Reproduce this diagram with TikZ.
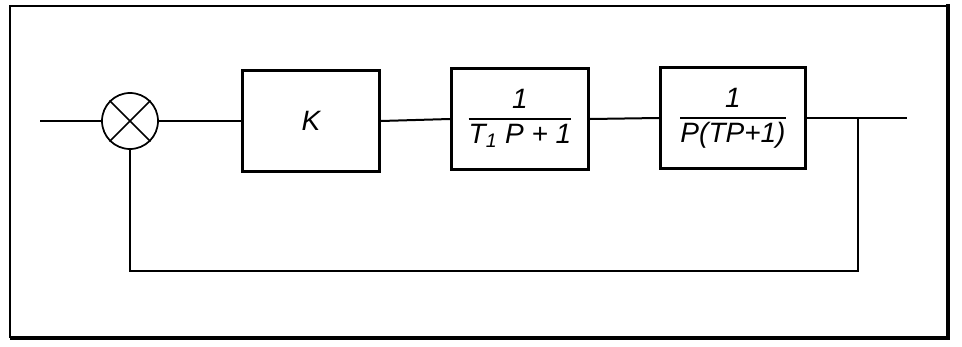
\documentclass[tikz,border=0pt]{standalone}
\usepackage{fontspec}
\setmainfont{Liberation Sans}
\usepackage{tikz}
\usetikzlibrary{positioning,calc}

\tikzset{
    block/.style={draw,line width=2pt,minimum width=103pt,minimum height=76pt,inner sep=0pt,font=\itshape\fontsize{21}{23}\selectfont},
    summer/.style={draw,circle,line width=1.3pt,minimum size=42pt,inner sep=0pt},
    signal/.style={line width=1.5pt}
}
\newcommand{\blockfrac}[2]{\setlength{\arrayrulewidth}{1.3pt}\renewcommand{\arraystretch}{1.1}\begin{tabular}{@{}c@{}}#1\\\hline #2\end{tabular}}

\begin{document}
\begin{tikzpicture}[x=0.75pt,y=-0.75pt]
    \useasboundingbox (0,0) rectangle (962,346);
    % frame with shadow on the right and below
    \draw[line width=1.3pt] (10,338) -- (10,6) -- (948,6);
    \draw[line width=3.6pt] (948,4) -- (948,338) -- (10,338);

    \node[summer] (sum) at (130,121) {};
    \draw[line width=1.3pt] (sum.north west) -- (sum.south east)
                            (sum.north east) -- (sum.south west);
    \node[block] (gain) at (311,121) {K};
    \node[block] (lag) at (520,119) {\blockfrac{1}{T\textsubscript{1} P + 1}};
    \node[block,minimum width=109pt] (plant) at (733,118) {\blockfrac{1}{P(TP+1)}};

    \coordinate (in) at (40,121);
    \coordinate (out) at (907,118);
    \coordinate (branch) at (858,118);
    \coordinate (back) at (858,271);

    \draw[signal] (in) -- (sum.west);
    \draw[signal] (sum.east) -- (gain.west);
    \draw[signal] (gain.east) -- (lag.west);
    \draw[signal] (lag.east) -- (plant.west);
    \draw[signal] (plant.east) -- (out);
    \draw[signal] (branch) -- (back) -| (sum.south);
\end{tikzpicture}
\end{document}
